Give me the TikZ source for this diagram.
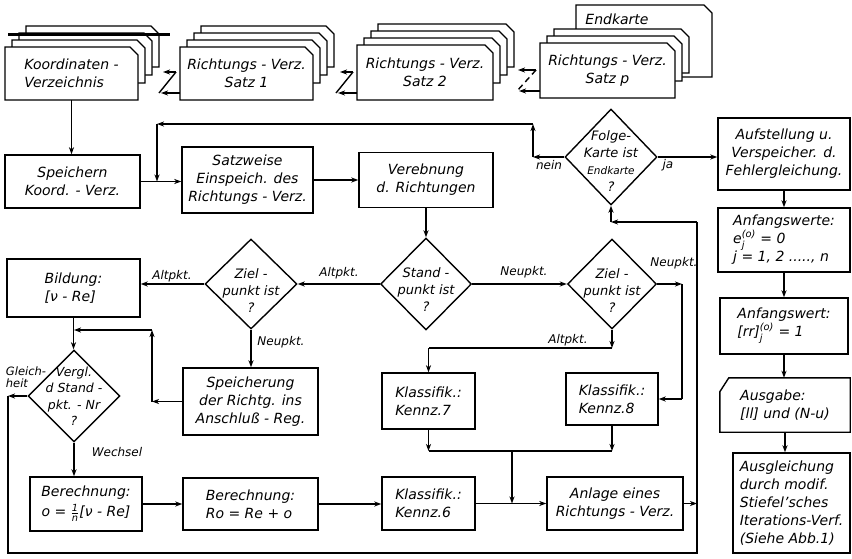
\documentclass[tikz,border=0pt]{standalone}
\usepackage{amsmath}
\usepackage{fontspec}
\setmainfont{DejaVu Sans}
\usetikzlibrary{arrows.meta,positioning,calc,shapes.geometric}

% Karte mit abgeschnittener Ecke oben rechts
\newcommand{\karte}[4]{\draw[kartenrand] (#1,#2) -- ({#3-8},#2) -- (#3,{#2+8}) -- (#3,#4) -- (#1,#4) -- cycle;}
% Stapel: vordere Karte und #5 Karten dahinter
\newcommand{\stapel}[5]{%
  \foreach \k in {#5,...,1}{\karte{#1+7*\k}{#2-7*\k}{#3+7*\k}{#4-8*\k-9}}%
  \karte{#1}{#2}{#3}{#4}}

\tikzset{
  kasten/.style={draw,line width=1.4pt,align=center,inner sep=2pt},
  raute/.style={draw,line width=1.4pt,diamond,inner sep=0pt},
  rautentext/.style={align=center,font=\itshape\fontsize{13}{17}\selectfont},
  kartentext/.style={inner sep=0pt,align=center},
  kartenrand/.style={draw,fill=white,line width=1.4pt},
  pfeil/.style={->,line width=1.4pt},
  linie/.style={line width=1.4pt},
  marke/.style={inner sep=1pt,font=\itshape\fontsize{12}{12}\selectfont},
}

\begin{document}
\begin{tikzpicture}[x=1pt,y=-1pt,>={Stealth[length=7pt,width=5pt,inset=2pt]},
  every node/.style={font=\itshape\fontsize{14}{18}\selectfont}]
\useasboundingbox (0,0) rectangle (852,558);

% Kartenstapel
\stapel{5}{47}{138}{100}{3}
\draw[line width=3pt] (8,34) -- (170,34);
\node[kartentext,minimum width=133,minimum height=53,align=left] (kv) at (71.5,73.5) {Koordinaten -\\Verzeichnis};
\stapel{180}{47}{313}{100}{3}
\node[kartentext,minimum width=133,minimum height=53] (rs1) at (246.5,73.5) {Richtungs - Verz.\\Satz 1};
\stapel{357}{45}{493}{100}{3}
\node[kartentext,minimum width=136,minimum height=55] (rs2) at (425,72.5) {Richtungs - Verz.\\Satz 2};
\karte{576}{5}{712}{77}
\node[kartentext] (ek) at (617,19) {Endkarte};
\stapel{540}{43}{675}{98}{2}
\node[kartentext,minimum width=135,minimum height=55] (rsp) at (607.5,70.5) {Richtungs - Verz.\\Satz p};

% Zickzack zwischen den Stapeln
\foreach \x in {180,357}{
  \draw[pfeil] (\x-4,72) -- (\x-17,72);
  \draw[linie] (\x-4,72) -- (\x-21,93);
  \draw[pfeil] (\x,93) -- (\x-19,93);
}
\draw[pfeil] (536,70) -- (518,70);
\draw[linie,dash pattern=on 6pt off 4pt] (536,70) -- (517,91);
\draw[pfeil] (540,91) -- (519,91);

% mittlere Reihe
\node[kasten,minimum width=135,minimum height=53] (spk) at (72.5,181.5) {Speichern\\Koord. - Verz.};
\node[kasten,minimum width=131,minimum height=66] (ein) at (247.5,180) {Satzweise\\Einspeich. des\\Richtungs - Verz.};
\node[kasten,minimum width=134,minimum height=55] (ver) at (426,180) {Verebnung\\d. Richtungen};
\node[raute,minimum width=92,minimum height=96,
  label={[rautentext,yshift=-4pt]center:{Folge-\\Karte ist\\{\fontsize{10.5}{12}\selectfont Endkarte}\\?}}] (fk) at (611,157) {};
\node[kasten,minimum width=132,minimum height=72] (auf) at (784,154) {Aufstellung u.\\Verspeicher. d.\\Fehlergleichung.};

% rechte Spalte
\node[kasten,minimum width=132,minimum height=64,align=left] (anw) at (784,240) {Anfangswerte:\\e$_{\textit{j}}^{\textit{(o)}}$ = 0\\j = 1, 2 ....., n};
\node[kasten,minimum width=128,minimum height=56,align=left] (anr) at (784,326) {Anfangswert:\\{}[rr]$_{\textit{j}}^{\textit{(o)}}$ = 1};
\node[inner sep=2pt,minimum width=130,minimum height=54,align=left] (aus) at (785,405) {Ausgabe:\\{}[ll] und (N-u)};
\draw[linie] (aus.south west) -- ($(aus.north west)+(0,14)$) -- ($(aus.north west)+(9,0)$) -- (aus.north east) -- (aus.south east) -- cycle;
\node[kasten,minimum width=117,minimum height=100,align=left] (agl) at (791.5,503) {Ausgleichung\\durch modif.\\Stiefel'sches\\Iterations-Verf.\\(Siehe Abb.1)};

% Entscheidungen
\node[kasten,minimum width=133,minimum height=58,align=left] (bil) at (73.5,288) {Bildung:\\{}[ν - Re]};
\node[raute,minimum width=92,minimum height=90,
  label={[rautentext,yshift=-7pt]center:{Ziel -\\punkt ist\\?}}] (zl) at (251,284) {};
\node[raute,minimum width=91,minimum height=92,
  label={[rautentext,yshift=-6pt]center:{Stand -\\punkt ist\\?}}] (st) at (426,284) {};
\node[raute,minimum width=89,minimum height=90,
  label={[rautentext,yshift=-7pt]center:{Ziel -\\punkt ist\\?}}] (zr) at (612,284) {};
\node[raute,minimum width=92,minimum height=92,
  label={[rautentext,font=\itshape\fontsize{12.5}{16.5}\selectfont]center:{Vergl.\\d Stand -\\pkt. - Nr\\?}}] (vgl) at (74,396) {};

% untere Kaesten
\node[kasten,minimum width=135,minimum height=67] (spr) at (250.5,401.5) {Speicherung\\der Richtg. ins\\Anschluß - Reg.};
\node[kasten,minimum width=93,minimum height=56,align=left] (k7) at (428.5,401) {Klassifik.:\\Kennz.7};
\node[kasten,minimum width=92,minimum height=52,align=left] (k8) at (612,399) {Klassifik.:\\Kennz.8};
\node[kasten,minimum width=112,minimum height=54] (b1) at (86,504) {Berechnung:\\[2pt]o = $\frac{\textit{1}}{\textit{n}}$[ν - Re]};
\node[kasten,minimum width=135,minimum height=52,align=left] (b2) at (250.5,504) {Berechnung:\\Ro = Re + o};
\node[kasten,minimum width=93,minimum height=53,align=left] (k6) at (428.5,503.5) {Klassifik.:\\Kennz.6};
\node[kasten,minimum width=136,minimum height=53] (anl) at (615,503.5) {Anlage eines\\Richtungs - Verz.};

% Beschriftungen
\node[marke] (l-nein) at (549,165) {nein};
\node[marke] (l-ja) at (668,165) {ja};
\node[marke] (l-alt1) at (172,276) {Altpkt.};
\node[marke] (l-alt2) at (339,273) {Altpkt.};
\node[marke] (l-neu1) at (524,272) {Neupkt.};
\node[marke] (l-neu2) at (674,263) {Neupkt.};
\node[marke] (l-neu3) at (281,342) {Neupkt.};
\node[marke] (l-alt3) at (568,340) {Altpkt.};
\node[marke,align=left,font=\itshape\fontsize{11.5}{11.5}\selectfont] (l-gl) at (26,377) {Gleich-\\heit};
\node[marke] (l-we) at (117,452) {Wechsel};

% Verbindungen
\draw[pfeil] (kv.south) -- (kv.south |- spk.north);
\draw[pfeil] (spk.east) -- (spk.east -| ein.west);
\draw[pfeil] (ein.east) -- (ein.east -| ver.west);
\draw[pfeil] (ver.south) -- (st.north);
\draw[pfeil] (fk.east) -- (fk.east -| auf.west);
\draw[pfeil] (auf.south) -- (auf.south |- anw.north);
\draw[pfeil] (anw.south) -- (anw.south |- anr.north);
\draw[pfeil] (anr.south) -- (anr.south |- aus.north);
\draw[pfeil] (aus.south) -- (aus.south |- agl.north);

\coordinate (n1) at (533,157);
\coordinate (n2) at (533,124);
\coordinate (n3) at (157,124);
\draw[pfeil] (fk.west) -- (n1);
\draw[pfeil] (n1) -- (n2);
\draw[pfeil] (n2) -- (n3);
\draw[pfeil] (n3) -- (n3 |- spk.east);

\draw[pfeil] (st.west) -- (zl.east);
\draw[pfeil] (st.east) -- (zr.west);
\draw[pfeil] (zl.west) -- (zl.west -| bil.east);
\draw[pfeil] (zl.south) -- (zl.south |- spr.north);
\draw[pfeil] (bil.south) -- (bil.south |- vgl.north);

\coordinate (s1) at (152,330);
\draw[pfeil] (spr.west) -- (spr.west -| s1);
\draw[pfeil] (spr.west -| s1) -- (s1);
\draw[pfeil] (s1) -- (s1 -| vgl.north);

\draw[pfeil] (vgl.south) -- (vgl.south |- b1.north);
\draw[pfeil] (b1.east) -- (b1.east -| b2.west);
\draw[pfeil] (b2.east) -- (b2.east -| k6.west);
\draw[pfeil] (k6.east) -- (k6.east -| anl.west);

\coordinate (a1) at (612,348);
\draw[pfeil] (zr.south) -- (zr.south |- a1);
\draw[linie] (zr.south |- a1) -- (a1 -| k7.north);
\draw[pfeil] (a1 -| k7.north) -- (k7.north);

\coordinate (e1) at (682,284);
\draw[pfeil] (zr.east) -- (e1);
\draw[linie] (e1) -- (e1 |- k8.east);
\draw[pfeil] (e1 |- k8.east) -- (k8.east);

\coordinate (m1) at (512,451);
\draw[pfeil] (k7.south) -- (k7.south |- m1);
\draw[pfeil] (k8.south) -- (k8.south |- m1);
\draw[linie] (k7.south |- m1) -- (k8.south |- m1);
\draw[pfeil] (m1) -- (m1 |- k6.east);

\coordinate (r1) at (697,222);
\coordinate (r2) at (697,553);
\coordinate (r3) at (8,553);
\draw[pfeil] (r1) -- (r1 -| fk.south);
\draw[pfeil] (r1 -| fk.south) -- (fk.south);
\draw[linie] (r1) -- (r2) -- (r3) -- (r3 |- vgl.west);
\draw[pfeil] (vgl.west) -- (vgl.west -| r3);
\draw[pfeil] (anl.east) -- (anl.east -| r1);
\end{tikzpicture}
\end{document}
